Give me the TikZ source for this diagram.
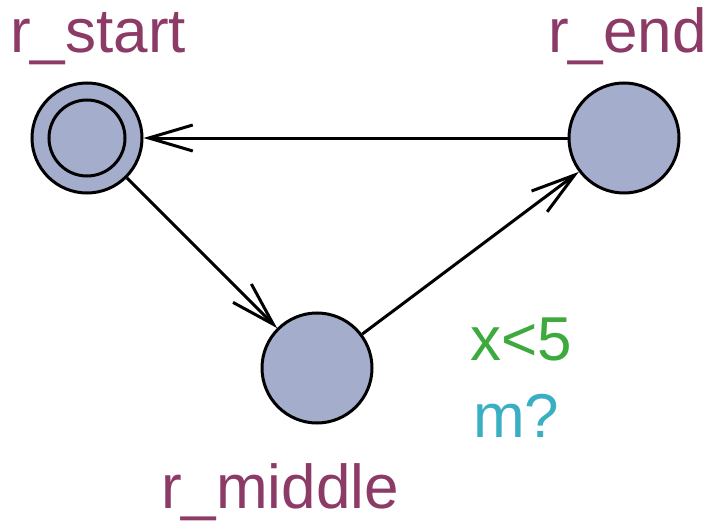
\documentclass[tikz,border=0pt]{standalone}
\usepackage{fontspec}
\setmainfont{Liberation Sans}
\usetikzlibrary{arrows.meta}
\definecolor{locfill}{HTML}{A4ADCB}
\definecolor{namecol}{HTML}{8C3A66}
\definecolor{guardcol}{HTML}{3DAA3D}
\definecolor{synccol}{HTML}{3AAFC4}
\tikzset{
  loc/.style={circle,draw=black,line width=3pt,fill=locfill,minimum size=110pt,inner sep=0pt},
  innerring/.style={circle,draw=black,line width=3pt,minimum size=76pt,inner sep=0pt},
  lbl/.style={anchor=base west,inner sep=0pt,font=\fontsize{62}{62}\selectfont},
  edge/.style={line width=3pt,-{Straight Barb[length=44pt,width=26pt,line width=3pt]}}
}
\begin{document}
\begin{tikzpicture}[x=1pt,y=-1pt]
\useasboundingbox (0,0) rectangle (713,527);
\node[loc] (start) at (87,138) {};
\node[innerring] (startin) at (87,138) {};
\node[loc] (end) at (624,138) {};
\node[loc] (middle) at (317,368) {};
\node[lbl,text=namecol] (lstart) at (10,53) {r\_start};
\node[lbl,text=namecol] (lend) at (548,53) {r\_end};
\node[lbl,text=namecol] (lmiddle) at (161,508) {r\_middle};
\node[lbl,text=guardcol] (guard) at (470,360) {x<5};
\node[lbl,text=synccol] (sync) at (473,437) {m?};
\draw[edge] (end) -- (start);
\draw[edge] (start) -- (middle);
\draw[edge] (middle) -- (end);
\end{tikzpicture}
\end{document}
